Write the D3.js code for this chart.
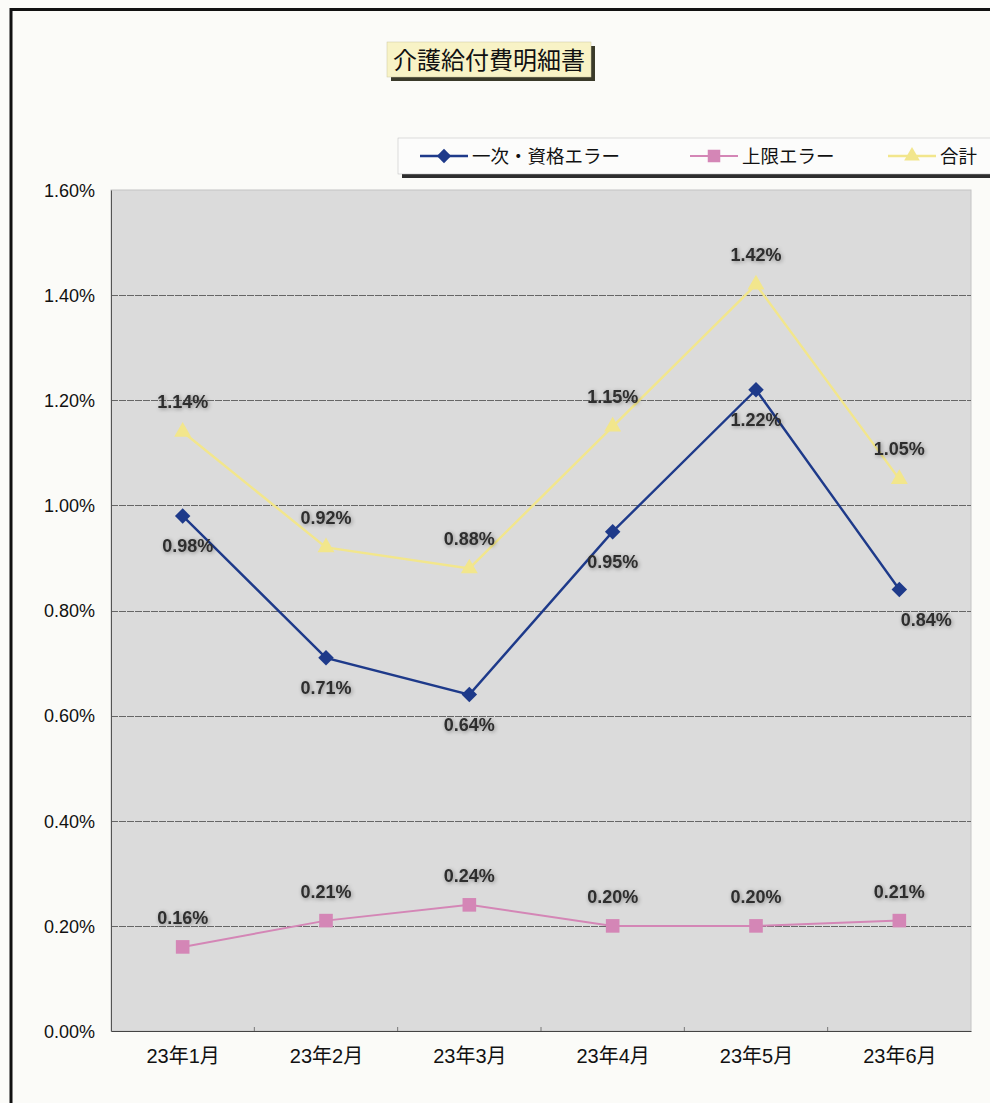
<!DOCTYPE html>
<html><head><meta charset="utf-8">
<script src="https://cdn.jsdelivr.net/npm/d3@7"></script>
<style>
html,body{margin:0;padding:0;background:#fbfbf8;overflow:hidden;}
svg{display:block;}
text{font-family:"Liberation Sans","Noto Sans CJK JP",Arial,sans-serif;}
</style></head>
<body>
<script>
const title = "介護給付費明細書";
const categories = ["23年1月","23年2月","23年3月","23年4月","23年5月","23年6月"];
const seriesNames = ["一次・資格エラー","上限エラー","合計"];
const primaryErr = [0.98, 0.71, 0.64, 0.95, 1.22, 0.84];
const limitErr = [0.16, 0.21, 0.24, 0.20, 0.20, 0.21];
const totalErr = [1.14, 0.92, 0.88, 1.15, 1.42, 1.05];
const yTicks = [0, 0.2, 0.4, 0.6, 0.8, 1.0, 1.2, 1.4, 1.6];

const W = 990, H = 1103;
const svg = d3.select("body").append("svg").attr("width", W).attr("height", H);
const defs = svg.append("defs");
const f = defs.append("filter").attr("id","glow").attr("x","-20%").attr("y","-40%").attr("width","140%").attr("height","180%");
f.append("feGaussianBlur").attr("in","SourceAlpha").attr("stdDeviation",2.2).attr("result","b");
f.append("feOffset").attr("in","b").attr("dx",1).attr("dy",1).attr("result","o");
f.append("feComponentTransfer").attr("in","o").attr("result","s").append("feFuncA").attr("type","linear").attr("slope",0.4);
const fm = f.append("feMerge"); fm.append("feMergeNode").attr("in","s"); fm.append("feMergeNode").attr("in","SourceGraphic");

// outer frame
svg.append("rect").attr("x",11).attr("y",9.5).attr("width",1010).attr("height",1120)
  .attr("fill","#fbfbf8").attr("stroke","#111").attr("stroke-width",3);

const m = {left:111, right:971, top:190, bottom:1031};
const x = d3.scalePoint().domain(categories).range([m.left, m.right]).padding(0.5);
const y = d3.scaleLinear().domain([0, 1.6]).range([m.bottom, m.top]);

// plot area
svg.append("rect").attr("x",m.left).attr("y",m.top).attr("width",m.right-m.left).attr("height",m.bottom-m.top)
  .attr("fill","#dbdbdb").attr("stroke","#c4c4c4").attr("stroke-width",1);

// gridlines
svg.append("g").selectAll("line").data(yTicks.filter(d=>d>0 && d<1.6)).join("line")
  .attr("x1",m.left).attr("x2",m.right).attr("y1",d=>Math.round(y(d))+0.5).attr("y2",d=>Math.round(y(d))+0.5)
  .attr("stroke","#666").attr("stroke-width",1).attr("stroke-dasharray","7,1");

// axes
const yAxis = d3.axisLeft(y).tickValues(yTicks).tickFormat(d=>d.toFixed(2)+"%").tickSize(0).tickPadding(16);
const gy = svg.append("g").attr("transform",`translate(${m.left},0)`).call(yAxis);
gy.select(".domain").attr("stroke","#555");
gy.selectAll("text").attr("font-size",18).attr("fill","#111").attr("dy","0.35em");

const xAxis = d3.axisBottom(x).tickSize(0).tickPadding(18);
const gx = svg.append("g").attr("transform",`translate(0,${m.bottom})`).call(xAxis);
gx.select(".domain").attr("stroke","#444");
gx.selectAll("text").attr("font-size",20).attr("fill","#111");
// small tick marks between categories
svg.append("g").selectAll("line").data(d3.range(1,6)).join("line")
  .attr("x1",i=>m.left+i*x.step()).attr("x2",i=>m.left+i*x.step())
  .attr("y1",m.bottom-4).attr("y2",m.bottom).attr("stroke","#777");

const series = [
  {name:seriesNames[0], values:primaryErr, color:"#1e3a8a", shape:d3.symbolSquare, rot:45, size:120, lw:2.4, labelDy:30},
  {name:seriesNames[1], values:limitErr, color:"#d486b6", shape:d3.symbolSquare, rot:0, size:185, lw:2, labelDy:-29},
  {name:seriesNames[2], values:totalErr, color:"#f2e68c", shape:d3.symbolTriangle, rot:0, size:125, lw:2.4, labelDy:-30}
];

const line = d3.line().x((d,i)=>x(categories[i])).y(d=>y(d));
series.forEach(s=>{
  const g = svg.append("g");
  g.append("path").datum(s.values).attr("d",line).attr("fill","none").attr("stroke",s.color).attr("stroke-width",s.lw);
  g.selectAll("path.m").data(s.values).join("path").attr("class","m")
    .attr("transform",(d,i)=>`translate(${x(categories[i])},${y(d)}) rotate(${s.rot})`)
    .attr("d",d3.symbol().type(s.shape).size(s.size)).attr("fill",s.color);
});

// labels
series.forEach((s,si)=>{
  svg.append("g").attr("filter","url(#glow)").selectAll("text").data(s.values).join("text")
    .attr("x",(d,i)=>x(categories[i]) + (si===0 && i===5 ? 27 : (si===0 && i===0 ? 5 : 0)))
    .attr("y",d=>y(d)+s.labelDy)
    .attr("dy","0.35em").attr("text-anchor","middle")
    .attr("font-size",18).attr("font-weight","bold").attr("fill","#2e2e2e")
    .text(d=>d.toFixed(2)+"%");
});

// title
const tg = svg.append("g");
tg.append("rect").attr("x",391).attr("y",46).attr("width",204).attr("height",35).attr("fill","#3a3a2a");
tg.append("rect").attr("x",387).attr("y",42).attr("width",204).attr("height",35).attr("fill","#f8f3c6").attr("stroke","#ccc6a0").attr("stroke-width",0.5);
tg.append("text").attr("x",489).attr("y",60).attr("dy","0.36em").attr("text-anchor","middle")
  .attr("font-size",24).attr("fill","#111").text(title);

// legend
const lg = svg.append("g");
lg.append("rect").attr("x",402).attr("y",142).attr("width",600).attr("height",36).attr("fill","#2e2e2e");
lg.append("rect").attr("x",398).attr("y",138).attr("width",600).attr("height",36).attr("fill","#fcfcfb").attr("stroke","#bbb").attr("stroke-width",0.5);
const legX = [420, 690, 888];
series.forEach((s,i)=>{
  const lx = legX[i], ly = 156;
  lg.append("line").attr("x1",lx).attr("x2",lx+48).attr("y1",ly).attr("y2",ly).attr("stroke",s.color).attr("stroke-width",s.lw);
  lg.append("path").attr("transform",`translate(${lx+24},${ly}) rotate(${s.rot})`).attr("d",d3.symbol().type(s.shape).size(s.size*0.85)).attr("fill",s.color);
  lg.append("text").attr("x",lx+52).attr("y",ly).attr("dy","0.36em").attr("font-size",18.5).attr("fill","#111").text(s.name);
});
</script>
</body></html>
